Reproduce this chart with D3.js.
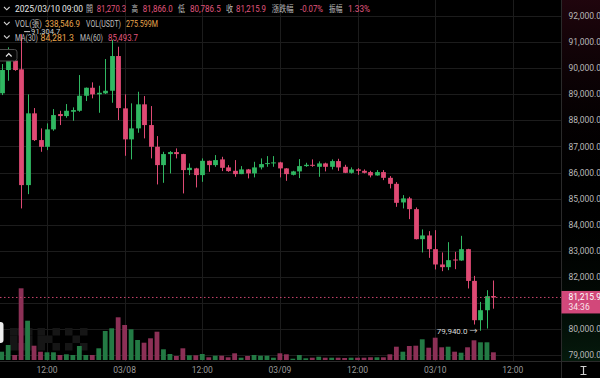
<!DOCTYPE html>
<html>
<head>
<meta charset="utf-8">
<script src="https://cdn.jsdelivr.net/npm/d3@7"></script>
<style>
  html, body { margin: 0; padding: 0; background: #000; }
  svg { display: block; font-family: Roboto, "Noto Sans CJK TC", sans-serif; }
</style>
</head>
<body>
<div id="chart"></div>
<script>
// 2h candles, BTC-USDT swap
const opens = [89040, 89930, 90290, 89956, 85521, 88270, 87246, 86989, 87656, 88243,
  88166, 88331, 88369, 88944, 89251, 88998, 89036, 89136, 90466, 88461,
  87273, 87694, 88615, 87821, 86989, 86287, 86709, 86786, 86709, 86096,
  86161, 85904, 86452, 86287, 86506, 86199, 86069, 85942, 86122, 85969,
  86199, 86326, 86352, 86391, 86161, 85916, 86046, 86249, 86299, 86222,
  86352, 86222, 86441, 86222, 85992, 86122, 86069, 86019, 85892, 86019,
  85800, 85570, 84857, 85011, 84600, 83450, 83592, 83067, 82480, 82377,
  82670, 82633, 83067, 81851, 80345, 80728, 81270.3];
const highs = [90160, 90800, 90570, 91304.7, 88998, 88473, 87694, 87886, 88434, 88369,
  88626, 88500, 89738, 89260, 89458, 89328, 90351, 91080, 90823, 88998,
  88653, 89098, 88933, 88549, 87399, 86797, 86824, 86928, 86720, 86352,
  86184, 86544, 86460, 86671, 86606, 86287, 86479, 86249, 86140, 86414,
  86544, 86632, 86632, 86414, 86170, 86069, 86517, 86376, 86506, 86429,
  86380, 86506, 86530, 86299, 86199, 86170, 86122, 86069, 86096, 86096,
  85866, 85636, 85137, 85072, 84665, 83822, 83757, 83795, 82940, 83335,
  82963, 83577, 83080, 82043, 81046, 81495, 81866.0];
const lows = [88970, 89520, 89900, 84627, 85175, 87210, 86797, 86862, 87602, 87821,
  88101, 87986, 88330, 88741, 88845, 88292, 89010, 88676, 88013, 86644,
  86506, 87526, 87311, 86544, 85547, 85609, 85969, 86544, 85202, 85904,
  85432, 85647, 86030, 86222, 86057, 86030, 85839, 85940, 85778, 85816,
  86122, 86222, 86222, 85816, 85685, 85893, 85789, 86222, 86222, 85839,
  86046, 86122, 86069, 85980, 85960, 85916, 85969, 85816, 85880, 85712,
  85394, 84689, 84627, 84217, 83440, 82940, 82733, 82289, 82223, 82262,
  82300, 82620, 81560, 80180, 79940, 80026, 80786.5];
const closes = [89930, 90290, 89930, 85521, 88270, 87246, 86989, 87656, 88204, 88166,
  88369, 88396, 88944, 89251, 88998, 89059, 89136, 90466, 88473, 87273,
  87694, 88615, 87821, 86989, 86287, 86709, 86786, 86709, 86096, 86184,
  85904, 86452, 86287, 86479, 86184, 86057, 85942, 86122, 85969, 86199,
  86326, 86364, 86391, 86161, 85942, 86046, 86249, 86299, 86260, 86352,
  86222, 86441, 86199, 85992, 86122, 86069, 85992, 85892, 86019, 85800,
  85570, 84842, 85011, 84600, 83450, 83592, 83067, 82480, 82377, 82645,
  82633, 83067, 81851, 80345, 80728, 81265, 81215.9];
// volume in contracts (張)
const volumes = [365000, 660000, 220000, 3155000, 1729000, 629000, 365000, 339000, 339000, 220000,
  251000, 220000, 616000, 220000, 220000, 515000, 1276000, 1395000, 1879000, 1540000,
  1351000, 880000, 761000, 955000, 1245000, 471000, 264000, 176000, 515000, 207000,
  207000, 264000, 119000, 189000, 189000, 119000, 295000, 101000, 176000, 220000,
  189000, 189000, 101000, 295000, 251000, 57000, 220000, 75000, 101000, 145000,
  101000, 101000, 101000, 88000, 101000, 101000, 101000, 119000, 119000, 119000,
  251000, 585000, 365000, 616000, 629000, 911000, 541000, 981000, 559000, 585000,
  365000, 321000, 559000, 867000, 779000, 779000, 338546.9];

const priceTicks = [79000, 80000, 81000, 82000, 83000, 84000, 85000, 86000, 87000, 88000, 89000, 90000, 91000, 92000];
const timeTickIdx = [7, 19, 31, 43, 55, 67, 79];
const timeTickLabels = ["12:00", "03/08", "12:00", "03/09", "12:00", "03/10", "12:00"];

const lastPrice = 81215.9;
const countdown = "34:36";
const maxHighIdx = 3;
const minLowIdx = 74;

const W = 600, H = 378;
const plotRight = 561;
const volBase = 360;
const UP = "#30b862", DOWN = "#df4a74";
const UP_VOL = "#237a44", DOWN_VOL = "#8c3056";
const GRID = "#1c1c1c";

const candles = opens.map((o, i) => ({ i, o, h: highs[i], l: lows[i], c: closes[i], v: volumes[i] }));

const svg = d3.select("#chart").append("svg")
  .attr("width", W).attr("height", H)
  .style("background", "#000");

const x = d3.scaleLinear().domain([0, 79]).range([1.7, 1.7 + 79 * 6.47]);
const y = d3.scaleLinear().domain([79000, 92000]).range([355.3, 16]);
const yVol = d3.scaleLinear().domain([0, 3300000]).range([volBase, volBase - 75]);
const fmt = d3.format(",.1f");

// right axis background tint
const defs = svg.append("defs");
const grad = defs.append("linearGradient").attr("id", "axisTint").attr("x1", 0).attr("y1", 0).attr("x2", 0).attr("y2", 1);
grad.append("stop").attr("offset", "0%").attr("stop-color", "#3a0a18").attr("stop-opacity", 0.55);
grad.append("stop").attr("offset", "55%").attr("stop-color", "#000").attr("stop-opacity", 0);
grad.append("stop").attr("offset", "100%").attr("stop-color", "#0c3a1c").attr("stop-opacity", 0.45);
svg.append("rect").attr("x", plotRight).attr("y", 0).attr("width", W - plotRight).attr("height", 361)
  .attr("fill", "url(#axisTint)");

// grid
svg.append("g").selectAll("line").data(priceTicks).join("line")
  .attr("x1", 0).attr("x2", plotRight)
  .attr("y1", d => Math.round(y(d)) + 0.5).attr("y2", d => Math.round(y(d)) + 0.5)
  .attr("stroke", GRID);
svg.append("g").selectAll("line").data(timeTickIdx).join("line")
  .attr("x1", d => Math.round(x(d)) + 0.5).attr("x2", d => Math.round(x(d)) + 0.5)
  .attr("y1", 0).attr("y2", 361)
  .attr("stroke", GRID);

// OKX watermark in the volume pane
const cell = 7.5, gap = 5;
const letters = [
  [[0,0],[1,0],[2,0],[0,1],[2,1],[0,2],[1,2],[2,2]],
  [[0,0],[2,0],[0,1],[1,1],[0,2],[2,2]],
  [[0,0],[2,0],[1,1],[0,2],[2,2]]
];
const wm = svg.append("g").attr("transform", "translate(10,328)");
letters.forEach((cells, li) => {
  wm.append("g").attr("transform", `translate(${li * (3 * cell + gap)},0)`)
    .selectAll("rect").data(cells).join("rect")
    .attr("x", d => d[0] * cell).attr("y", d => d[1] * cell)
    .attr("width", cell).attr("height", cell)
    .attr("fill", "#161616");
});

// volume bars
svg.append("g").selectAll("rect").data(candles).join("rect")
  .attr("x", d => x(d.i) - 2.4)
  .attr("width", 4.8)
  .attr("y", d => yVol(d.v))
  .attr("height", d => volBase - yVol(d.v))
  .attr("fill", d => d.c >= d.o ? UP_VOL : DOWN_VOL);

// candles
const cg = svg.append("g").selectAll("g").data(candles).join("g");
cg.append("line")
  .attr("x1", d => Math.round(x(d.i)) + 0.5).attr("x2", d => Math.round(x(d.i)) + 0.5)
  .attr("y1", d => y(d.h)).attr("y2", d => y(d.l))
  .attr("stroke", d => d.c >= d.o ? UP : DOWN).attr("stroke-width", 1);
cg.append("rect")
  .attr("x", d => Math.round(x(d.i)) + 0.5 - 2.4)
  .attr("width", 4.8)
  .attr("y", d => y(Math.max(d.o, d.c)))
  .attr("height", d => Math.max(1, Math.abs(y(d.o) - y(d.c))))
  .attr("fill", d => d.c >= d.o ? UP : DOWN);

// last price dotted line
svg.append("line")
  .attr("x1", 0).attr("x2", plotRight)
  .attr("y1", y(lastPrice)).attr("y2", y(lastPrice))
  .attr("stroke", "#c8456e").attr("stroke-width", 1)
  .attr("stroke-dasharray", "1.5,2.5");

// axis borders
svg.append("line").attr("x1", plotRight + 0.5).attr("x2", plotRight + 0.5).attr("y1", 0).attr("y2", H)
  .attr("stroke", "#2a2a2a");
svg.append("line").attr("x1", 0).attr("x2", W).attr("y1", 361.5).attr("y2", 361.5)
  .attr("stroke", "#2a2a2a");

// price axis labels (the one under the last-price tag is covered)
const ty = y(lastPrice);
svg.append("g").selectAll("text")
  .data(priceTicks.filter(d => Math.abs(y(d) - (ty + 4.5)) > 12))
  .join("text")
  .attr("x", 568.5).attr("y", d => y(d) + 3)
  .attr("fill", "#b8b8b8").style("font-size", "8.5px")
  .text(d => fmt(d));

// last price tag
svg.append("rect").attr("x", plotRight + 0.5).attr("y", ty - 6.5).attr("width", W - plotRight).attr("height", 22.5)
  .attr("fill", "#d2487a");
svg.append("text").attr("x", 568.5).attr("y", ty + 3).attr("fill", "#fff").style("font-size", "8.5px").text(fmt(lastPrice));
svg.append("text").attr("x", 568.5).attr("y", ty + 13).attr("fill", "#fbe3ea").style("font-size", "8.5px").text(countdown);

// time axis labels
svg.append("g").selectAll("text").data(timeTickIdx).join("text")
  .attr("x", d => x(d)).attr("y", 373)
  .attr("text-anchor", "middle")
  .attr("fill", "#9a9a9a").style("font-size", "8.5px")
  .text((d, i) => timeTickLabels[i]);

// I-beam icon bottom right
svg.append("path")
  .attr("d", "M580.5,366.5h6M580.5,374.5h6M583.5,366.5v8")
  .attr("stroke", "#cfcfcf").attr("stroke-width", 1.2).attr("fill", "none");

// high / low markers
const hx = x(maxHighIdx) + 3, hy = y(highs[maxHighIdx]) - 2.5;
svg.append("line").attr("x1", hx).attr("x2", hx + 6).attr("y1", hy).attr("y2", hy).attr("stroke", "#cfcfcf");
svg.append("text").attr("x", hx + 7).attr("y", hy + 2.5).attr("fill", "#cfcfcf").style("font-size", "7.6px")
  .text(fmt(highs[maxHighIdx]));
const lx = x(minLowIdx) - 3, ly = y(lows[minLowIdx]);
svg.append("text").attr("x", lx).attr("y", ly + 3).attr("text-anchor", "end")
  .attr("fill", "#d8d8d8").style("font-size", "8px")
  .text(fmt(lows[minLowIdx]) + " →");

// legend header rows: [text, colour, left, width]
const LBL = "#bdbdbd", RED = "#e0577f", ORG = "#e9a64d";
const rows = [
  { y: 12, parts: [
    ["2025/03/10 09:00", "#e6e6e6", 15, 68], ["開", LBL, 86, 7], ["81,270.3", RED, 96.7, 29.3],
    ["高", LBL, 131.5, 6.5], ["81,866.0", RED, 142.7, 30], ["低", LBL, 178, 7], ["80,786.5", RED, 190, 30.7],
    ["收", LBL, 226, 7], ["81,215.9", RED, 236, 30], ["漲跌幅", LBL, 271.7, 22], ["-0.07%", RED, 300, 23],
    ["振幅", LBL, 329, 13.5], ["1.33%", RED, 348, 22]
  ]},
  { y: 27, parts: [
    ["VOL(張)", LBL, 15, 27], ["338,546.9", ORG, 45, 35], ["VOL(USDT)", LBL, 86, 35], ["275.599M", ORG, 126, 32]
  ]},
  { y: 40.5, parts: [
    ["MA(30)", LBL, 15, 23], ["84,281.3", ORG, 40.5, 33.5], ["MA(60)", LBL, 80, 23], ["85,493.7", RED, 108, 30]
  ]}
];
rows.forEach(r => {
  svg.append("path")
    .attr("d", `M4,${r.y - 5}l2.8,2.8l2.8,-2.8`)
    .attr("stroke", "#d0d0d0").attr("stroke-width", 1.1).attr("fill", "none");
  svg.append("g").selectAll("text").data(r.parts).join("text")
    .attr("x", d => d[2]).attr("y", r.y)
    .attr("textLength", d => d[3]).attr("lengthAdjust", "spacingAndGlyphs")
    .attr("fill", d => d[1]).style("font-size", "8.6px")
    .text(d => d[0]);
});

// collapse button top-left
svg.append("rect").attr("x", -3).attr("y", 49.5).attr("width", 20).attr("height", 11.5).attr("rx", 2.5)
  .attr("fill", "#050505").attr("stroke", "#4a4a4a");
svg.append("path").attr("d", "M6,56.5l2.8,-2.8l2.8,2.8")
  .attr("stroke", "#e8e8e8").attr("stroke-width", 1.2).attr("fill", "none");

// side tab in the volume pane
svg.append("rect").attr("x", -6).attr("y", 322).attr("width", 9.5).attr("height", 21).attr("rx", 3)
  .attr("fill", "#ececec");
</script>
</body>
</html>
